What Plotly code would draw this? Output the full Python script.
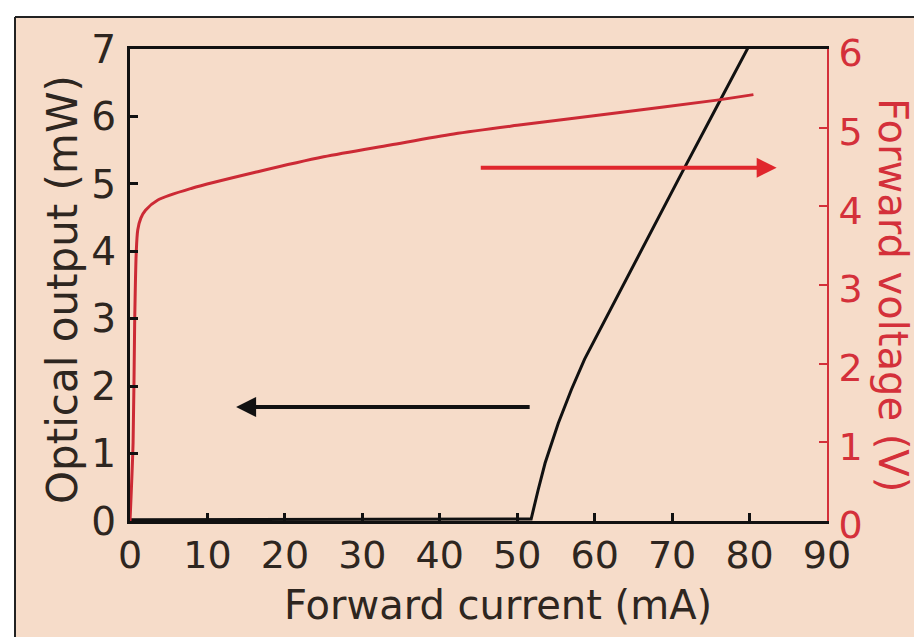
import plotly.graph_objects as go

# Forward voltage vs forward current (right axis)
current_v = [0, 0.4, 0.6, 0.8, 1.0, 1.4, 2.0, 3.6, 8.0, 16.5, 25.0, 33.6, 41.8, 50.0, 63.0, 75.8, 80.5]
voltage = [0, 1.0, 2.5, 3.4, 3.7, 3.85, 3.95, 4.08, 4.23, 4.44, 4.63, 4.78, 4.92, 5.03, 5.19, 5.35, 5.42]

# Optical output vs forward current (left axis)
current_p = [0, 10, 20, 30, 40, 50, 51.8, 52.7, 53.6, 55.3, 57.0, 58.7, 61.0, 63.0, 67.3, 71.1, 75.8, 79.9]
optical = [0.02, 0.02, 0.02, 0.02, 0.02, 0.03, 0.03, 0.46, 0.86, 1.45, 1.95, 2.40, 2.91, 3.35, 4.29, 5.13, 6.15, 7.04]

x_ticks = [0, 10, 20, 30, 40, 50, 60, 70, 80, 90]
y_ticks = [0, 1, 2, 3, 4, 5, 6, 7]
y2_ticks = [0, 1, 2, 3, 4, 5, 6]

# page is offset by the browser's 8px body margin
OFF = 8
PAGE_W, PAGE_H = 922, 637
W, H = PAGE_W - OFF, PAGE_H - OFF
PL, PR, PT, PB = 130, 827, 49, 521          # plot area, page pixels
ML, MT = PL - OFF, PT - OFF
MR, MB = W - (PR - OFF), H - (PB - OFF)
PW, PH = PR - PL, PB - PT

def px_x(p):  # page px -> paper fraction
    return (p - PL) / PW

def px_y(p):
    return (PB - p) / PH

TXT = "#2e2620"
RED = "#d4303a"
CURVE_RED = "#cc2a35"
FONT = "DejaVu Sans"

fig = go.Figure()
fig.add_trace(go.Scatter(x=current_p, y=optical, mode="lines",
                         line=dict(color="#111111", width=3), yaxis="y", showlegend=False))
fig.add_trace(go.Scatter(x=current_v, y=voltage, mode="lines",
                         line=dict(color=CURVE_RED, width=3, shape="spline", smoothing=0.8),
                         yaxis="y2", showlegend=False))

# beige panel with black frame at top and left
fig.add_shape(type="rect", xref="paper", yref="paper",
              x0=px_x(15), x1=px_x(PAGE_W + 10), y0=px_y(PAGE_H + 10), y1=px_y(17),
              fillcolor="#f6dcc9", line=dict(width=0), layer="below")
fig.add_shape(type="line", xref="paper", yref="paper",
              x0=px_x(15), x1=px_x(PAGE_W + 10), y0=px_y(17), y1=px_y(17),
              line=dict(color="#222222", width=2), layer="below")
fig.add_shape(type="line", xref="paper", yref="paper",
              x0=px_x(15), x1=px_x(15), y0=px_y(17), y1=px_y(PAGE_H + 10),
              line=dict(color="#222222", width=2), layer="below")

# arrows
fig.add_annotation(x=13.7, y=1.69, ax=51.8, ay=1.69, xref="x", yref="y", axref="x", ayref="y",
                   text="", showarrow=True, arrowhead=2, arrowsize=1, arrowwidth=4, arrowcolor="#111111")
fig.add_annotation(x=83.5, y=4.49, ax=45.1, ay=4.49, xref="x", yref="y2", axref="x", ayref="y2",
                   text="", showarrow=True, arrowhead=2, arrowsize=1, arrowwidth=4, arrowcolor="#e0262c")

# axis titles
fig.add_annotation(x=px_x(62), y=px_y(290), xref="paper", yref="paper", text="Optical output (mW)",
                   textangle=-90, showarrow=False, xanchor="center", yanchor="middle",
                   font=dict(size=42, color=TXT, family=FONT))
fig.add_annotation(x=px_x(893), y=px_y(295), xref="paper", yref="paper", text="Forward voltage (V)",
                   textangle=90, showarrow=False, xanchor="center", yanchor="middle",
                   font=dict(size=40, color=RED, family=FONT))
fig.add_annotation(x=px_x(498), y=px_y(605), xref="paper", yref="paper", text="Forward current (mA)",
                   showarrow=False, xanchor="center", yanchor="middle",
                   font=dict(size=40, color=TXT, family=FONT))

fig.update_layout(
    width=W, height=H,
    margin=dict(l=ML, r=MR, t=MT, b=MB),
    paper_bgcolor="white",
    plot_bgcolor="white",
    font=dict(family=FONT, color=TXT),
    xaxis=dict(range=[0, 90], tickmode="array", tickvals=x_ticks, ticktext=[str(v) for v in x_ticks],
               showgrid=False, zeroline=False, showline=True, linecolor="#111111", linewidth=3,
               mirror=True, ticks="inside", ticklen=8, tickwidth=3, tickcolor="#111111",
               tickfont=dict(size=38, color=TXT), ticklabelstandoff=-2, automargin=False),
    yaxis=dict(range=[0, 7], tickmode="array", tickvals=y_ticks, ticktext=[str(v) for v in y_ticks],
               showgrid=False, zeroline=False, showline=True, linecolor="#111111", linewidth=3,
               ticks="inside", ticklen=8, tickwidth=3, tickcolor="#111111",
               tickfont=dict(size=39, color=TXT), ticklabelstandoff=3, automargin=False),
    yaxis2=dict(range=[0, 6], overlaying="y", side="right", tickmode="array", tickvals=y2_ticks,
                ticktext=[str(v) for v in y2_ticks],
                showgrid=False, zeroline=False, showline=True, linecolor=RED, linewidth=2,
                ticks="inside", ticklen=8, tickwidth=2, tickcolor=RED,
                tickfont=dict(size=38, color=RED), ticklabelstandoff=2, ticklabelshift=4,
                automargin=False),
)

fig.write_html("out.html")
